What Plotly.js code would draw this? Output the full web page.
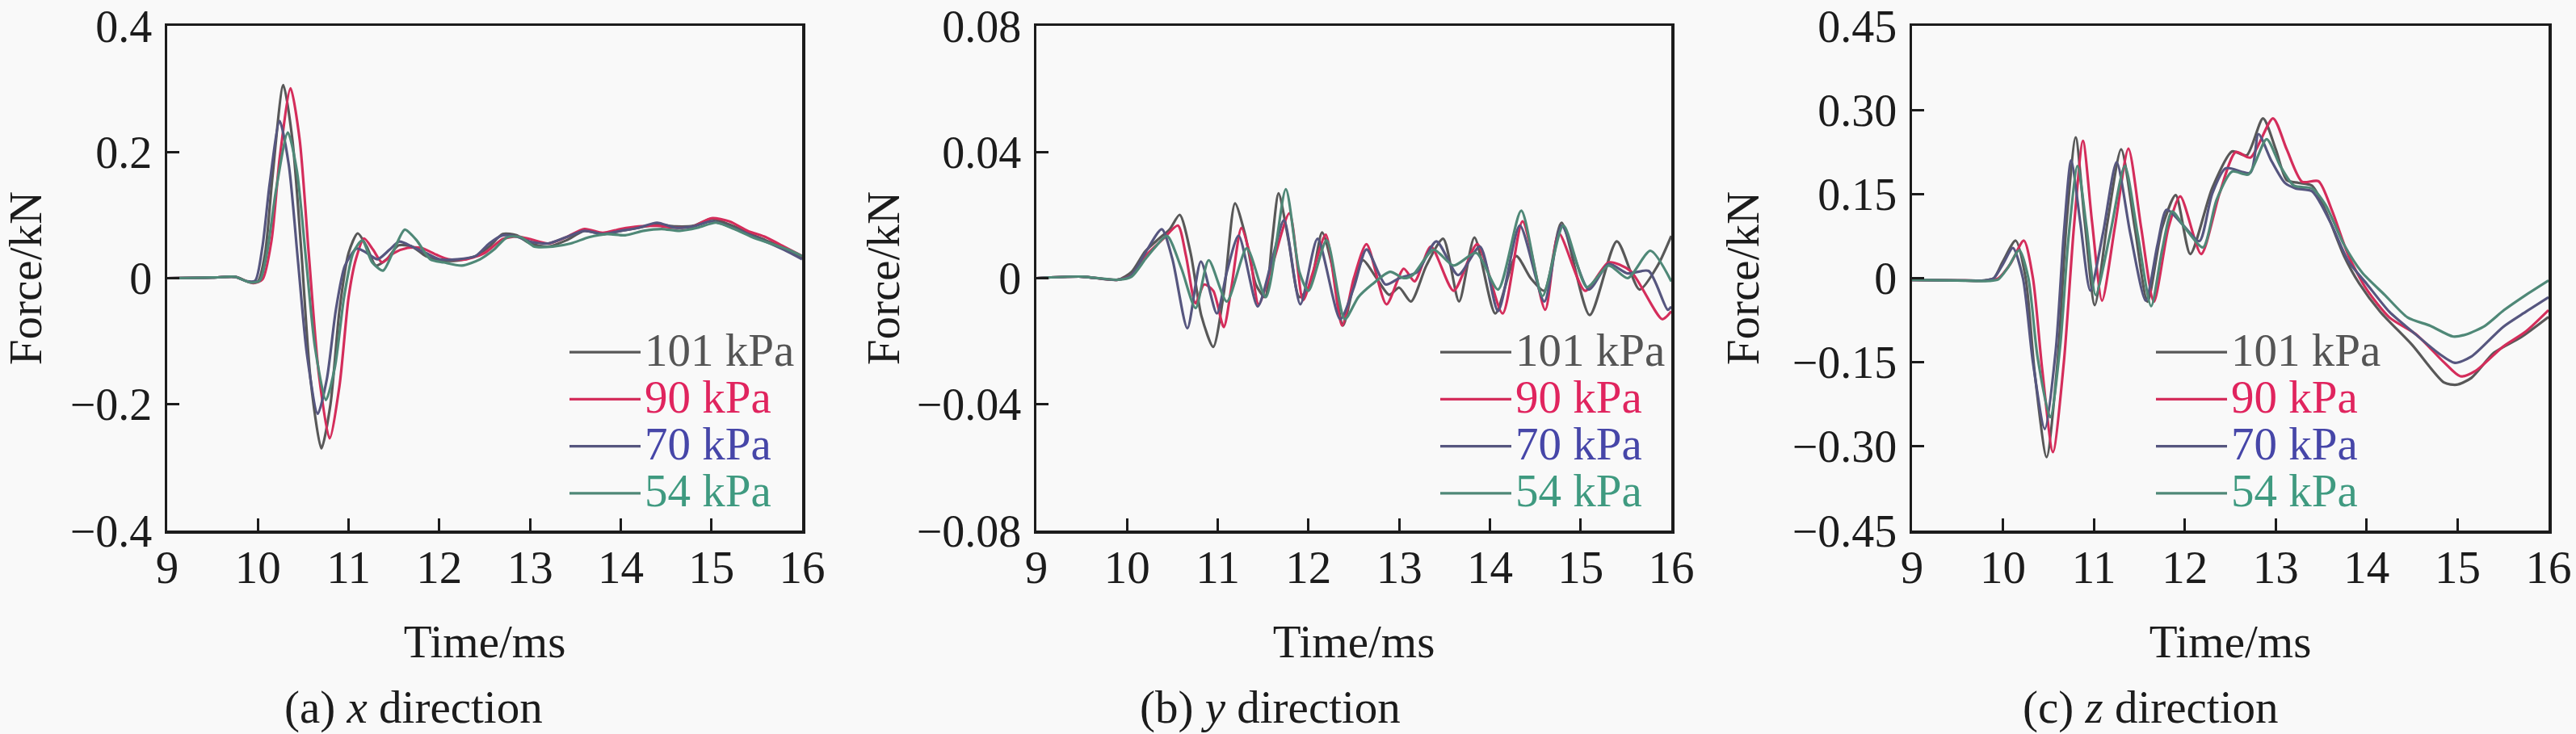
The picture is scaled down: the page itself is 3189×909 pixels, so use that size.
<!DOCTYPE html>
<html>
<head>
<meta charset="utf-8">
<script src="https://cdn.plot.ly/plotly-3.0.1.min.js"></script>
<style>
  html, body { margin: 0; padding: 0; background: #f9f9f9; }
  #chart { width: 3189px; height: 909px; }
</style>
</head>
<body>
<div id="chart"></div>
<script>
// ---------- series labels / tick labels ----------
const seriesNames = ['101 kPa', '90 kPa', '70 kPa', '54 kPa'];
const xTicks = [9, 10, 11, 12, 13, 14, 15, 16];
const yTicksA = [-0.4, -0.2, 0, 0.2, 0.4];
const yTicksB = [-0.08, -0.04, 0, 0.04, 0.08];
const yTicksC = [-0.45, -0.30, -0.15, 0, 0.15, 0.30, 0.45];
const yTickTextC = ['\u22120.45', '\u22120.30', '\u22120.15', '0', '0.15', '0.30', '0.45'];
const captions = ['(a) <i>x</i> direction', '(b) <i>y</i> direction', '(c) <i>z</i> direction'];

// ---------- (a) x direction ----------
const a_t_101 = [9, 9.5, 9.75, 9.9, 10.0, 10.08, 10.16, 10.28, 10.38, 10.48, 10.58, 10.70, 10.80, 10.90, 11.0, 11.10, 11.2, 11.3, 11.42, 11.55, 11.7, 11.85, 12.0, 12.2, 12.4, 12.55, 12.7, 12.85, 13.0, 13.2, 13.4, 13.6, 13.8, 14.0, 14.2, 14.4, 14.6, 14.8, 15.0, 15.2, 15.4, 15.6, 15.8, 16];
const a_F_101 = [0, 0.001, 0.002, -0.006, -0.005, 0.04, 0.16, 0.306, 0.22, 0.04, -0.16, -0.27, -0.2, -0.05, 0.04, 0.071, 0.05, 0.02, 0.03, 0.052, 0.05, 0.035, 0.028, 0.028, 0.035, 0.05, 0.07, 0.068, 0.055, 0.05, 0.06, 0.075, 0.07, 0.075, 0.08, 0.085, 0.082, 0.083, 0.094, 0.085, 0.072, 0.06, 0.048, 0.032];
const a_t_90 = [9, 9.5, 9.75, 9.95, 10.05, 10.15, 10.24, 10.36, 10.46, 10.56, 10.67, 10.79, 10.9, 11.0, 11.08, 11.17, 11.27, 11.37, 11.5, 11.65, 11.8, 11.97, 12.1, 12.3, 12.5, 12.7, 12.85, 13.0, 13.2, 13.4, 13.6, 13.8, 14.0, 14.2, 14.4, 14.6, 14.8, 15.0, 15.2, 15.4, 15.6, 15.8, 16];
const a_F_90 = [0, 0.001, 0.002, -0.008, -0.002, 0.06, 0.19, 0.301, 0.22, 0.04, -0.15, -0.254, -0.17, -0.03, 0.03, 0.063, 0.045, 0.025, 0.04, 0.048, 0.048, 0.037, 0.03, 0.03, 0.04, 0.062, 0.066, 0.062, 0.055, 0.065, 0.078, 0.072, 0.078, 0.082, 0.083, 0.08, 0.082, 0.095, 0.09, 0.075, 0.065, 0.05, 0.035];
const a_t_70 = [9, 9.5, 9.75, 9.88, 9.97, 10.05, 10.13, 10.24, 10.34, 10.44, 10.54, 10.66, 10.76, 10.86, 10.96, 11.09, 11.2, 11.32, 11.45, 11.56, 11.7, 11.85, 12.0, 12.2, 12.4, 12.55, 12.7, 12.85, 13.0, 13.2, 13.4, 13.6, 13.8, 14.0, 14.2, 14.4, 14.6, 14.8, 15.0, 15.2, 15.4, 15.6, 15.8, 16];
const a_F_70 = [0, 0.001, 0.002, -0.005, -0.004, 0.05, 0.15, 0.249, 0.18, 0.03, -0.12, -0.215, -0.16, -0.05, 0.02, 0.047, 0.04, 0.03, 0.045, 0.058, 0.05, 0.04, 0.03, 0.03, 0.035, 0.055, 0.068, 0.066, 0.058, 0.055, 0.065, 0.075, 0.07, 0.075, 0.08, 0.088, 0.08, 0.082, 0.09, 0.082, 0.07, 0.058, 0.045, 0.03];
const a_t_54 = [9, 9.5, 9.75, 9.92, 10.02, 10.1, 10.2, 10.33, 10.43, 10.53, 10.63, 10.75, 10.85, 10.95, 11.05, 11.15, 11.26, 11.38, 11.5, 11.62, 11.75, 11.9, 12.05, 12.25, 12.45, 12.6, 12.75, 12.9, 13.05, 13.25, 13.45, 13.65, 13.85, 14.05, 14.25, 14.45, 14.65, 14.85, 15.05, 15.25, 15.45, 15.65, 15.85, 16];
const a_F_54 = [0, 0.001, 0.002, -0.007, -0.004, 0.04, 0.14, 0.231, 0.17, 0.03, -0.11, -0.193, -0.14, -0.03, 0.04, 0.06, 0.025, 0.012, 0.045, 0.077, 0.06, 0.03, 0.025, 0.02, 0.03, 0.045, 0.065, 0.065, 0.05, 0.05, 0.055, 0.065, 0.07, 0.068, 0.075, 0.078, 0.075, 0.08, 0.088, 0.078, 0.065, 0.055, 0.045, 0.035];

// ---------- (b) y direction ----------
const b_t_101 = [9, 9.5, 9.9, 10.05, 10.2, 10.35, 10.47, 10.58, 10.7, 10.82, 10.95, 11.07, 11.19, 11.3, 11.42, 11.52, 11.6, 11.67, 11.78, 11.9, 12.02, 12.15, 12.26, 12.38, 12.5, 12.6, 12.75, 12.89, 13.0, 13.13, 13.3, 13.485, 13.66, 13.83, 14.06, 14.29, 14.45, 14.6, 14.79, 15.1, 15.4, 15.65, 15.85, 16];
const b_F_101 = [0, 0.0005, -0.0005, 0.002, 0.0085, 0.0125, 0.0155, 0.0201, 0.008, -0.012, -0.0218, -0.004, 0.0237, 0.014, -0.002, -0.006, 0.012, 0.0269, 0.012, -0.006, -0.002, 0.0145, 0.004, -0.015, -0.002, 0.0057, 0.0, -0.0053, -0.003, -0.0074, 0.004, 0.0125, -0.0074, 0.0129, -0.0112, 0.007, 0.0, -0.004, 0.0176, -0.0117, 0.0117, -0.0036, 0.004, 0.0134];
const b_t_90 = [9, 9.5, 9.9, 10.05, 10.2, 10.4, 10.56, 10.65, 10.755, 10.85, 10.95, 11.066, 11.15, 11.26, 11.35, 11.45, 11.6, 11.79, 11.94, 12.05, 12.19, 12.37, 12.5, 12.64, 12.86, 13.05, 13.17, 13.35, 13.6, 13.86, 14.14, 14.36, 14.61, 14.76, 15.05, 15.31, 15.55, 15.9, 16];
const b_F_90 = [0, 0.0005, -0.0005, 0.001, 0.007, 0.0125, 0.0167, 0.007, -0.008, -0.002, -0.004, -0.0155, -0.003, 0.0159, 0.008, -0.0083, 0.004, 0.0206, -0.007, 0.002, 0.0138, -0.015, 0.0, 0.0108, -0.0083, 0.003, -0.001, 0.010, -0.004, 0.0108, -0.0112, 0.018, -0.010, 0.0142, -0.004, 0.005, 0.0023, -0.013, -0.0105];
const b_t_70 = [9, 9.5, 9.9, 10.05, 10.2, 10.383, 10.5, 10.665, 10.814, 10.99, 11.1, 11.23, 11.44, 11.6, 11.73, 11.91, 12.1, 12.35, 12.5, 12.64, 12.85, 13.0, 13.2, 13.41, 13.65, 13.89, 14.09, 14.33, 14.6, 14.79, 15.09, 15.31, 15.52, 15.75, 15.96, 16];
const b_F_70 = [0, 0.0005, -0.0005, 0.001, 0.008, 0.0155, 0.006, -0.0159, 0.0053, -0.0112, 0.002, 0.0135, -0.009, 0.006, 0.0184, -0.0083, 0.0125, -0.013, -0.003, 0.0091, -0.002, 0.0, 0.002, 0.0117, 0.001, 0.010, -0.0104, 0.0167, -0.0074, 0.0167, -0.0036, 0.0045, 0.0015, 0.0023, -0.010, -0.009];
const b_t_54 = [9, 9.5, 9.9, 10.05, 10.2, 10.3, 10.44, 10.6, 10.755, 10.9, 11.1, 11.32, 11.53, 11.75, 11.9, 12.0, 12.2, 12.4, 12.55, 12.7, 12.9, 13.05, 13.15, 13.38, 13.6, 13.85, 14.09, 14.346, 14.58, 14.81, 15.07, 15.31, 15.52, 15.77, 16];
const b_F_54 = [0, 0.0005, -0.0005, 0.0005, 0.006, 0.0095, 0.0134, 0.003, -0.0095, 0.0057, -0.0074, 0.0095, -0.006, 0.0282, 0.002, -0.004, 0.012, -0.013, -0.006, -0.002, 0.002, 0.0, 0.001, 0.009, 0.004, 0.008, -0.0036, 0.0214, -0.0057, 0.0167, -0.0028, 0.004, 0.0, 0.0087, -0.001];

// ---------- (c) z direction ----------
const c_t_101 = [9, 9.5, 9.8, 9.9, 10.0, 10.14, 10.25, 10.35, 10.48, 10.6, 10.7, 10.8, 10.9, 11.01, 11.15, 11.3, 11.45, 11.59, 11.75, 11.9, 12.06, 12.3, 12.52, 12.68, 12.86, 13.0, 13.12, 13.25, 13.4, 13.55, 13.75, 13.92, 14.15, 14.5, 14.85, 14.99, 15.15, 15.4, 15.7, 16];
const c_F_101 = [-0.003, -0.004, -0.004, 0.0, 0.03, 0.067, 0.0, -0.17, -0.319, -0.15, 0.1, 0.251, 0.1, -0.048, 0.1, 0.23, 0.09, -0.042, 0.09, 0.148, 0.043, 0.16, 0.226, 0.219, 0.285, 0.23, 0.175, 0.17, 0.165, 0.12, 0.04, -0.01, -0.06, -0.119, -0.186, -0.19, -0.178, -0.133, -0.105, -0.069];
const c_t_90 = [9, 9.5, 9.85, 9.95, 10.08, 10.23, 10.33, 10.43, 10.55, 10.67, 10.78, 10.88, 10.98, 11.09, 11.23, 11.38, 11.52, 11.66, 11.82, 11.95, 12.18, 12.38, 12.56, 12.72, 12.97, 13.12, 13.29, 13.47, 13.62, 13.8, 14.0, 14.25, 14.55, 14.85, 15.03, 15.2, 15.5, 15.75, 16];
const c_F_90 = [-0.003, -0.004, -0.004, 0.0, 0.025, 0.067, 0.0, -0.16, -0.31, -0.15, 0.09, 0.245, 0.1, -0.04, 0.09, 0.231, 0.09, -0.042, 0.09, 0.146, 0.043, 0.15, 0.225, 0.215, 0.285, 0.23, 0.172, 0.173, 0.12, 0.04, -0.02, -0.07, -0.101, -0.15, -0.175, -0.165, -0.122, -0.095, -0.057];
const c_t_70 = [9, 9.5, 9.8, 9.9, 10.0, 10.11, 10.22, 10.33, 10.46, 10.58, 10.67, 10.75, 10.85, 10.96, 11.1, 11.25, 11.4, 11.57, 11.7, 11.8, 11.98, 12.16, 12.3, 12.45, 12.72, 12.81, 12.95, 13.1, 13.22, 13.4, 13.6, 13.8, 14.0, 14.25, 14.5, 14.8, 14.97, 15.15, 15.5, 15.75, 16];
const c_F_70 = [-0.003, -0.004, -0.004, 0.0, 0.025, 0.054, 0.0, -0.15, -0.269, -0.13, 0.08, 0.21, 0.1, -0.022, 0.08, 0.207, 0.08, -0.04, 0.06, 0.122, 0.095, 0.066, 0.15, 0.196, 0.188, 0.257, 0.21, 0.17, 0.16, 0.155, 0.1, 0.03, -0.01, -0.06, -0.095, -0.135, -0.151, -0.14, -0.087, -0.06, -0.034];
const c_t_54 = [9, 9.5, 9.85, 9.95, 10.06, 10.18, 10.28, 10.38, 10.52, 10.63, 10.72, 10.82, 10.92, 11.02, 11.18, 11.34, 11.48, 11.63, 11.75, 11.86, 12.0, 12.2, 12.35, 12.52, 12.7, 12.9, 13.05, 13.2, 13.4, 13.55, 13.75, 13.95, 14.2, 14.45, 14.7, 14.95, 15.1, 15.3, 15.51, 15.75, 16];
const c_F_54 = [-0.003, -0.004, -0.005, -0.002, 0.02, 0.05, 0.0, -0.14, -0.248, -0.12, 0.07, 0.2, 0.09, -0.03, 0.08, 0.2, 0.08, -0.05, 0.05, 0.119, 0.09, 0.055, 0.14, 0.19, 0.185, 0.248, 0.2, 0.165, 0.16, 0.13, 0.06, 0.01, -0.03, -0.07, -0.085, -0.104, -0.1, -0.085, -0.057, -0.03, -0.004];

// ---------- styling ----------
const FONT = '"Liberation Serif", "DejaVu Serif", serif';
const INK = '#1c1c1c';
const lineColors = ['#585858', '#d42d5b', '#56567f', '#4f8877'];
const textColors = ['#555555', '#e0245e', '#4646a8', '#3f9a80'];

const panels = [
  { t: [a_t_101, a_t_90, a_t_70, a_t_54], F: [a_F_101, a_F_90, a_F_70, a_F_54] },
  { t: [b_t_101, b_t_90, b_t_70, b_t_54], F: [b_F_101, b_F_90, b_F_70, b_F_54] },
  { t: [c_t_101, c_t_90, c_t_70, c_t_54], F: [c_F_101, c_F_90, c_F_70, c_F_54] }
];

const traces = [];
panels.forEach((p, pi) => {
  const sfx = pi === 0 ? '' : String(pi + 1);
  for (let s = 0; s < 4; s++) {
    traces.push({
      type: 'scatter', mode: 'lines',
      x: p.t[s], y: p.F[s],
      xaxis: 'x' + sfx, yaxis: 'y' + sfx,
      legend: 'legend' + sfx,
      name: '<span style="font-size:57px;color:' + textColors[s] + '">' + seriesNames[s] + '</span>',
      line: { color: lineColors[s], width: 3.2, shape: 'spline', smoothing: 0.7 },
      hoverinfo: 'skip'
    });
  }
});

const W = 3189, H = 909;
const plotL = [207, 1283, 2367], plotR = [993, 2069, 3155];
const plotTop = 32, plotBot = 657;
const yTitleStandoff = [35, 4, 24];

function xAxis(i) {
  return {
    domain: [plotL[i] / W, plotR[i] / W],
    anchor: i === 0 ? 'y' : 'y' + (i + 1),
    range: [9, 16], tickvals: xTicks,
    showline: true, linecolor: INK, linewidth: 3.5, mirror: true,
    ticks: 'inside', ticklen: 15, tickwidth: 3, tickcolor: INK,
    showgrid: false, zeroline: false,
    tickfont: { family: FONT, size: 57, color: INK },
    ticklabelstandoff: -7, ticklabeloverflow: 'allow',
    title: { text: 'Time/ms', font: { family: FONT, size: 57, color: INK }, standoff: 42 }
  };
}
function yAxis(i, range, vals, text) {
  const ax = {
    domain: [(H - plotBot) / H, (H - plotTop) / H],
    anchor: i === 0 ? 'x' : 'x' + (i + 1),
    range: range, tickvals: vals,
    showline: true, linecolor: INK, linewidth: 3.5, mirror: true,
    ticks: 'inside', ticklen: 15, tickwidth: 3, tickcolor: INK,
    showgrid: false, zeroline: false,
    tickfont: { family: FONT, size: 56, color: INK },
    ticklabelstandoff: 4, ticklabeloverflow: 'allow',
    title: { text: 'Force/kN', font: { family: FONT, size: 57, color: INK }, standoff: yTitleStandoff[i] }
  };
  if (text) ax.ticktext = text;
  return ax;
}
function legendAt(textStartPx) {
  return {
    x: (textStartPx - 100) / W, xanchor: 'left',
    y: (H - 402) / H, yanchor: 'top',
    bgcolor: 'rgba(0,0,0,0)', borderwidth: 0,
    font: { family: FONT, size: 42.5, color: INK },
    itemwidth: 88,
    traceorder: 'normal'
  };
}

const layout = {
  width: W, height: H,
  margin: { l: 0, r: 0, t: 0, b: 0 },
  paper_bgcolor: '#f9f9f9', plot_bgcolor: '#f9f9f9',
  font: { family: FONT, color: INK },
  showlegend: true,
  xaxis: xAxis(0), xaxis2: xAxis(1), xaxis3: xAxis(2),
  yaxis: yAxis(0, [-0.4, 0.4], yTicksA),
  yaxis2: yAxis(1, [-0.08, 0.08], yTicksB),
  yaxis3: yAxis(2, [-0.45, 0.45], yTicksC, yTickTextC),
  legend: legendAt(800), legend2: legendAt(1878), legend3: legendAt(2764),
  annotations: captions.map((c, i) => ({
    text: c, xref: 'paper', yref: 'paper',
    x: [512, 1572, 2662][i] / W, y: (H - 876) / H,
    xanchor: 'center', yanchor: 'middle', showarrow: false,
    font: { family: FONT, size: 57, color: INK }
  }))
};

Plotly.newPlot('chart', traces, layout, { staticPlot: true, displayModeBar: false });
</script>
</body>
</html>
